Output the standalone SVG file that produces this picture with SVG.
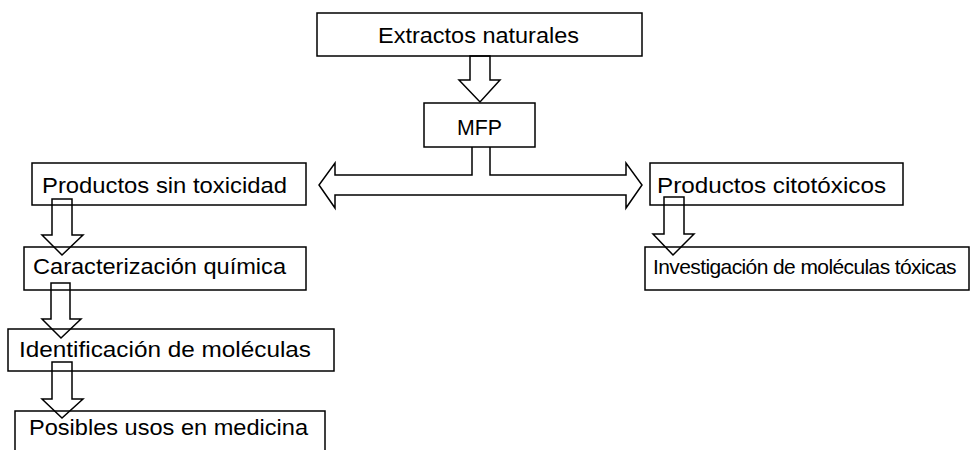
<svg xmlns="http://www.w3.org/2000/svg" width="970" height="450" viewBox="0 0 970 450">
<style>
.bg{fill:#ffffff}
.box{fill:none;stroke:#000;stroke-width:1.5}
.arr{fill:#ffffff;stroke:#000;stroke-width:1.5;stroke-linejoin:miter}
.lbl{font-family:"Liberation Sans",Arial,sans-serif;font-size:22px;fill:#000}
.tight{font-size:21px;letter-spacing:-0.6px}
</style>
<rect class="bg" x="0" y="0" width="970" height="450"/>
<g id="connectors">
<path class="arr" d="M470,56 L470,80 L459,80 L480,102 L500,80 L490,80 L490,56 Z"/>
<path class="arr" d="M472,147 L472,175 L335,175 L335,163 L319,185 L335,208 L335,195 L626,195 L626,208 L642,185 L626,163 L626,175 L490,175 L490,147"/>
<path class="arr" d="M52,199 L52,235 L42,235 L62,255 L83,235 L72,235 L72,199 Z"/>
<path class="arr" d="M51,283 L51,319 L42,319 L61,338 L81,319 L70,319 L70,283 Z"/>
<path class="arr" d="M52,362 L52,399 L42,399 L62,418 L83,399 L72,399 L72,362 Z"/>
<path class="arr" d="M664,197 L664,234 L653,234 L673,255 L694,234 L684,234 L684,197 Z"/>
</g>
<g id="extractos">
<rect class="box" x="317" y="13" width="325" height="43"/>
<text class="lbl" x="378" y="43" textLength="201" lengthAdjust="spacingAndGlyphs">Extractos naturales</text>
</g>
<g id="mfp">
<rect class="box" x="424" y="103" width="111" height="44"/>
<text class="lbl" x="457" y="135" textLength="45" lengthAdjust="spacingAndGlyphs">MFP</text>
</g>
<g id="sin-toxicidad">
<rect class="box" x="32" y="163" width="274" height="42"/>
<text class="lbl" x="42" y="193" textLength="245" lengthAdjust="spacingAndGlyphs">Productos sin toxicidad</text>
</g>
<g id="caracterizacion">
<rect class="box" x="24" y="247" width="282" height="43"/>
<text class="lbl" x="33" y="274" textLength="253" lengthAdjust="spacingAndGlyphs">Caracterización química</text>
</g>
<g id="identificacion">
<rect class="box" x="8" y="329" width="326" height="42"/>
<text class="lbl" x="19" y="357" textLength="292" lengthAdjust="spacingAndGlyphs">Identificación de moléculas</text>
</g>
<g id="posibles-usos">
<rect class="box" x="15" y="411" width="310" height="45"/>
<text class="lbl" x="29" y="435" textLength="279" lengthAdjust="spacingAndGlyphs">Posibles usos en medicina</text>
</g>
<g id="citotoxicos">
<rect class="box" x="650" y="163" width="253" height="42"/>
<text class="lbl" x="657" y="193" textLength="229" lengthAdjust="spacingAndGlyphs">Productos citotóxicos</text>
</g>
<g id="investigacion">
<rect class="box" x="645" y="247" width="324" height="43"/>
<text class="lbl tight" x="653" y="274">Investigación de moléculas tóxicas</text>
</g>
</svg>
